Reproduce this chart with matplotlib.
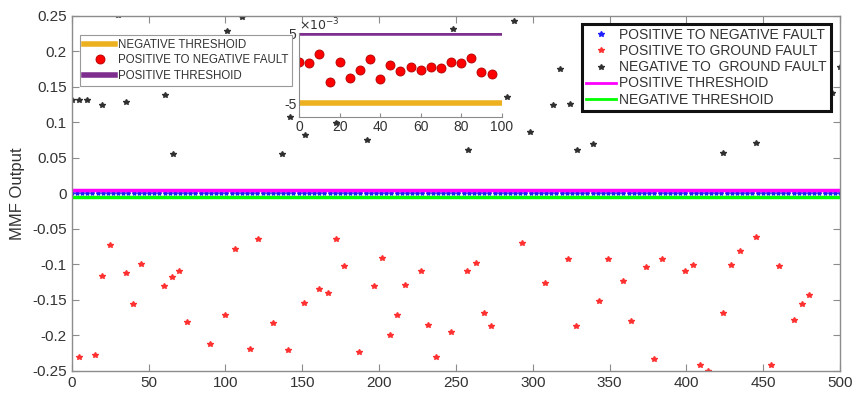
import matplotlib
matplotlib.use('Agg')
import matplotlib.pyplot as plt
from matplotlib.lines import Line2D
import numpy as np

plt.rcParams['font.family'] = ['Liberation Sans', 'DejaVu Sans']
plt.rcParams['axes.unicode_minus'] = False

# positive to ground fault (red stars)
pg_x = [5, 15, 20, 25, 35, 40, 45, 60, 65, 70, 75, 90, 100, 106, 116, 121, 131, 141,
        151, 161, 167, 172, 177, 187, 197, 202, 207, 212, 217, 227, 232, 237, 247,
        257, 263, 268, 273, 293, 308, 323, 328, 343, 349, 359, 364, 374, 379, 384,
        399, 404, 409, 414, 424, 429, 435, 445, 455, 460, 470, 475, 480]
pg_y = [-0.231, -0.228, -0.117, -0.073, -0.113, -0.156, -0.100, -0.131, -0.118, -0.110,
        -0.181, -0.212, -0.171, -0.078, -0.219, -0.065, -0.183, -0.221,
        -0.154, -0.135, -0.141, -0.064, -0.103, -0.223, -0.130, -0.091, -0.200,
        -0.171, -0.129, -0.109, -0.186, -0.231, -0.196,
        -0.110, -0.098, -0.168, -0.187, -0.070, -0.126, -0.093, -0.187, -0.152,
        -0.093, -0.123, -0.180, -0.104, -0.234, -0.093,
        -0.109, -0.101, -0.242, -0.250, -0.169, -0.101, -0.081, -0.061, -0.242,
        -0.103, -0.178, -0.156, -0.143]

# negative to ground fault (black stars)
ng_x = [0, 5, 10, 20, 30, 35, 61, 66, 101, 111, 137, 142, 152, 172, 192, 248,
        258, 283, 288, 298, 313, 318, 324, 329, 339, 424, 445, 495, 500]
ng_y = [0.131, 0.131, 0.131, 0.125, 0.251, 0.128, 0.139, 0.055, 0.228, 0.249,
        0.055, 0.107, 0.082, 0.099, 0.075, 0.232,
        0.061, 0.135, 0.243, 0.087, 0.124, 0.175, 0.126, 0.061, 0.070,
        0.057, 0.071, 0.141, 0.178]

# positive to negative fault (blue stars, all on the zero line at this scale)
pn_main_x = np.linspace(0, 500, 150)
pn_main_y = [0.0] * len(pn_main_x)

pos_threshold = 0.005
neg_threshold = -0.005

# inset: positive to negative fault, values x 1e-3
inset_x = [0, 5, 10, 15, 20, 25, 30, 35, 40, 45, 50, 55, 60, 65, 70, 75, 80, 85, 90, 95]
inset_y = [0.94, 0.8, 2.0, -1.9, 0.94, -1.43, -0.24, 1.37, -1.57, 0.43,
           -0.33, 0.24, -0.24, 0.19, 0.0, 0.9, 0.71, 1.47, -0.57, -0.81]
inset_pos_thr = 5
inset_neg_thr = -5

text_color = '#333333'
spine_color = '#8c8c8c'

fig = plt.figure(figsize=(8.55, 3.97), dpi=100)
ax = fig.add_axes([0.0839, 0.0662, 0.8986, 0.8938])

ax.plot(pn_main_x, pn_main_y, linestyle='none', marker='*', color='#1f1fff', markersize=3)
ax.plot(pg_x, pg_y, linestyle='none', marker='*', color='#ff3030', markersize=3.8)
ax.plot(ng_x, ng_y, linestyle='none', marker='*', color='#303030', markersize=3.8)
ax.plot([0, 500], [pos_threshold, pos_threshold], color='#ff00ff', linewidth=2.5)
ax.plot([0, 500], [neg_threshold, neg_threshold], color='#00ff00', linewidth=2.5)

ax.set_xlim(0, 500)
ax.set_ylim(-0.25, 0.25)
ax.set_xticks(range(0, 501, 50))
ax.set_yticks([-0.25, -0.2, -0.15, -0.1, -0.05, 0, 0.05, 0.1, 0.15, 0.2, 0.25])
ax.set_yticklabels(['-0.25', '-0.2', '-0.15', '-0.1', '-0.05', '0', '0.05', '0.1', '0.15', '0.2', '0.25'])
ax.tick_params(direction='in', top=True, right=True, labelsize=11, colors=text_color,
               length=5, width=0.8)
for s in ax.spines.values():
    s.set_color(spine_color)
    s.set_linewidth(1.0)
ax.tick_params(axis='both', color=spine_color)
ax.set_ylabel('MMF Output', fontsize=12, color=text_color, labelpad=5)

handles = [
    Line2D([], [], linestyle='none', marker='*', color='#1f1fff', markersize=4),
    Line2D([], [], linestyle='none', marker='*', color='#ff3030', markersize=4),
    Line2D([], [], linestyle='none', marker='*', color='#303030', markersize=4),
    Line2D([], [], color='#ff00ff', linewidth=2),
    Line2D([], [], color='#00ff00', linewidth=2),
]
labels = ['POSITIVE TO NEGATIVE FAULT', 'POSITIVE TO GROUND FAULT',
          'NEGATIVE TO  GROUND FAULT', 'POSITIVE THRESHOID', 'NEGATIVE THRESHOID']
leg = ax.legend(handles, labels, loc='upper right', bbox_to_anchor=(0.988, 0.977),
                borderaxespad=0, fontsize=10, frameon=True, fancybox=False,
                handlelength=2.2, handletextpad=0.2, labelspacing=0.15,
                borderpad=0.3, framealpha=1)
leg.get_frame().set_edgecolor('#111111')
leg.get_frame().set_linewidth(2.2)
for t in leg.get_texts():
    t.set_color(text_color)

# inset
ax_in = fig.add_axes([0.350, 0.7045, 0.2367, 0.2116])
ax_in.set_facecolor('none')
l1, = ax_in.plot([0, 100], [inset_neg_thr, inset_neg_thr], color='#edb120', linewidth=4)
l2, = ax_in.plot(inset_x, inset_y, linestyle='none', marker='o', markersize=6.5,
                 markerfacecolor='#ff0000', markeredgecolor='#b00000', markeredgewidth=0.6)
l3, = ax_in.plot([0, 100], [inset_pos_thr, inset_pos_thr], color='#7e2f8e', linewidth=4)
ax_in.set_xlim(0, 100)
ax_in.set_ylim(-7, 5)
ax_in.set_xticks([0, 20, 40, 60, 80, 100])
ax_in.set_yticks([-5, 5])
ax_in.spines['top'].set_visible(False)
ax_in.spines['right'].set_visible(False)
for s in ['left', 'bottom']:
    ax_in.spines[s].set_color(spine_color)
ax_in.tick_params(direction='in', labelsize=10, colors=text_color, length=3, width=0.8,
                  color=spine_color, pad=2)
ax_in.text(0.0, 1.0, r'$\times10^{-3}$', transform=ax_in.transAxes, fontsize=9,
           color=text_color, va='bottom', ha='left')
leg_in = ax_in.legend([l1, l2, l3], ['NEGATIVE THRESHOID', 'POSITIVE TO NEGATIVE FAULT',
                                     'POSITIVE THRESHOID'],
                      loc='upper right', bbox_to_anchor=(-0.036, 0.98), borderaxespad=0,
                      fontsize=8.3, frameon=True, fancybox=False, handlelength=2.7,
                      handletextpad=0.2, labelspacing=0.3, borderpad=0.35, framealpha=1)
leg_in.get_frame().set_edgecolor('#999999')
leg_in.get_frame().set_linewidth(0.8)
for t in leg_in.get_texts():
    t.set_color(text_color)

fig.savefig('out.png', dpi=100)
